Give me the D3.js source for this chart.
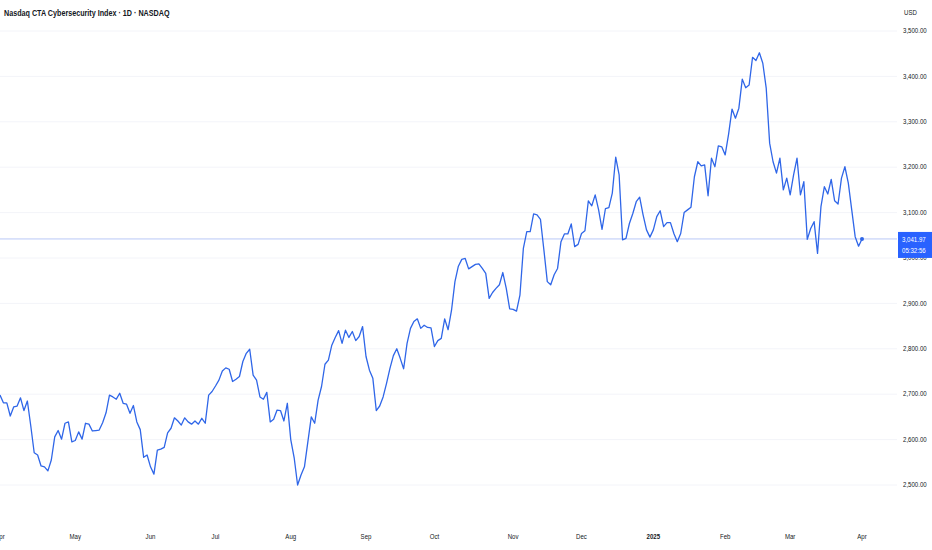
<!DOCTYPE html>
<html>
<head>
<meta charset="utf-8">
<script src="https://cdn.jsdelivr.net/npm/d3@7"></script>
<style>
  html, body { margin: 0; padding: 0; background: #ffffff; }
  svg { display: block; }
  text { font-family: "Liberation Sans", "Noto Sans", sans-serif; }
</style>
</head>
<body>
<svg id="chart" width="932" height="550"></svg>
<script>
// ---- data (daily closes, one per trading day, Apr 1 2024 .. Apr 1 2025) ----
const closes = [
  2698, 2681, 2681, 2652, 2672, 2674, 2692, 2664, 2685, 2630,
  2571, 2566, 2542, 2540, 2531, 2555, 2606, 2620, 2601, 2636,
  2639, 2595, 2598, 2617, 2601, 2636, 2634, 2619, 2620, 2621,
  2637, 2659, 2698, 2694, 2689, 2702, 2680, 2678, 2658, 2675,
  2639, 2622, 2561, 2566, 2540, 2524, 2577, 2579, 2583, 2615,
  2625, 2648, 2641, 2632, 2648, 2639, 2634, 2641, 2634, 2647,
  2636, 2698, 2706, 2718, 2731, 2751, 2758, 2755, 2728, 2733,
  2739, 2772, 2790, 2799, 2742, 2731, 2694, 2689, 2704, 2639,
  2645, 2665, 2664, 2641, 2680, 2600, 2560, 2500, 2522, 2540,
  2595, 2650, 2636, 2687, 2717, 2766, 2775, 2808, 2825, 2840,
  2812, 2841, 2825, 2838, 2818, 2827, 2849, 2783, 2753, 2735,
  2664, 2674, 2694, 2724, 2757, 2785, 2800, 2779, 2756, 2812,
  2845, 2860, 2866, 2845, 2852, 2847, 2846, 2805, 2818, 2823,
  2866, 2842, 2885, 2948, 2982, 2997, 2999, 2976, 2981, 2986,
  2987, 2977, 2966, 2911, 2924, 2933, 2941, 2968, 2933, 2888,
  2887, 2883, 2918, 3021, 3058, 3058, 3097, 3095, 3085, 3018,
  2948, 2941, 2963, 2977, 3036, 3053, 3053, 3075, 3025, 3030,
  3054, 3060, 3126, 3115, 3139, 3106, 3063, 3109, 3111, 3143,
  3222, 3183, 3040, 3043, 3076, 3098, 3124, 3134, 3095, 3062,
  3046, 3062, 3091, 3104, 3069, 3078, 3078, 3054, 3036, 3054,
  3100, 3106, 3112, 3179, 3212, 3203, 3205, 3137, 3220, 3201,
  3247, 3245, 3227, 3273, 3328, 3308, 3330, 3394, 3375, 3381,
  3442, 3435, 3452, 3429, 3374, 3253, 3212, 3187, 3220, 3150,
  3176, 3139, 3183, 3220, 3139, 3168, 3041, 3065, 3080, 3010,
  3113, 3157, 3141, 3173, 3126, 3119, 3176, 3201, 3165, 3106,
  3047, 3026, 3041.97
];
const monthLabels = ["Apr", "May", "Jun", "Jul", "Aug", "Sep", "Oct", "Nov", "Dec", "2025", "Feb", "Mar", "Apr"];
const monthIndex  = [0, 22, 44, 63, 85, 107, 127, 150, 170, 191, 212, 231, 252];
const yTickValues = [2500, 2600, 2700, 2800, 2900, 3000, 3100, 3200, 3300, 3400, 3500];
const title = "Nasdaq CTA Cybersecurity Index \u00b7 1D \u00b7 NASDAQ";
const currency = "USD";
const lastPrice = 3041.97;
const countdown = "05:32:56";

// ---- drawing ----
const svg = d3.select("#chart");
const plotRight = 897;
const SQ = 0.76; // reference glyphs are tall and narrow

const x = d3.scaleLinear().domain([0, closes.length - 1]).range([0, 862]);
const y = d3.scaleLinear().domain([2500, 3500]).range([485, 31]);
const fmt = d3.format(",.2f");

// a horizontally condensed text at (px, py)
function label(parent, px, py, str, opts = {}) {
  const g = parent.append("g")
    .attr("transform", `translate(${px},${py}) scale(${opts.sq || SQ},1)`);
  return g.append("text")
    .attr("x", 0).attr("y", 0)
    .attr("dominant-baseline", "central")
    .attr("text-anchor", opts.anchor || "start")
    .attr("font-size", opts.size || 8)
    .attr("font-weight", opts.weight || 400)
    .attr("fill", opts.fill || "#131722")
    .text(str);
}

// horizontal grid
svg.append("g").selectAll("line").data(yTickValues).join("line")
  .attr("x1", 0).attr("x2", plotRight)
  .attr("y1", d => y(d)).attr("y2", d => y(d))
  .attr("stroke", "#f3f4f9").attr("stroke-width", 1);

// price line
svg.append("line")
  .attr("x1", 0).attr("x2", plotRight)
  .attr("y1", y(lastPrice)).attr("y2", y(lastPrice))
  .attr("stroke", "#b9c8f7").attr("stroke-width", 1);

// series line
const line = d3.line().x((d, i) => x(i)).y(d => y(d));
svg.append("path")
  .datum(closes)
  .attr("d", line)
  .attr("fill", "none")
  .attr("stroke", "#2f66e8")
  .attr("stroke-width", 1.3)
  .attr("stroke-linejoin", "round");

// last point dot
svg.append("circle")
  .attr("cx", x(closes.length - 1)).attr("cy", y(lastPrice))
  .attr("r", 2).attr("fill", "#2f66e8");

// title
label(svg, 4, 13, title, { size: 9, weight: 600, sq: 0.8 });

// y axis labels
label(svg, 904, 13, currency);
const yAxisG = svg.append("g");
yTickValues.forEach(v => label(yAxisG, 903, y(v), fmt(v)));

// price label box
const py = y(lastPrice);
svg.append("rect")
  .attr("x", 898).attr("y", py - 7).attr("width", 34).attr("height", 26)
  .attr("fill", "#2962ff");
label(svg, 902, py + 0.5, fmt(lastPrice), { fill: "#ffffff" });
label(svg, 902, py + 11.5, countdown, { fill: "#ffffff" });

// x axis labels
const xAxisG = svg.append("g");
monthIndex.forEach((d, i) =>
  label(xAxisG, x(d), 537, monthLabels[i], {
    anchor: "middle",
    weight: monthLabels[i] === "2025" ? 700 : 400
  }));
</script>
</body>
</html>
